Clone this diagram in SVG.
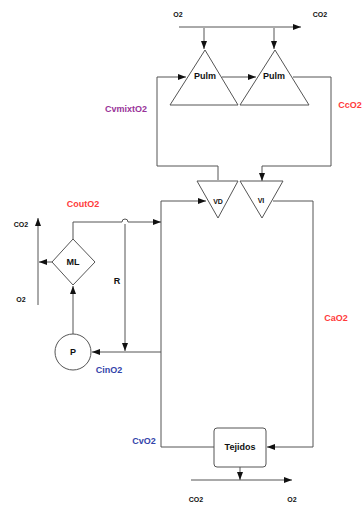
<svg xmlns="http://www.w3.org/2000/svg" width="364" height="505" viewBox="0 0 364 505">
<style>
.ln{fill:none;stroke:#555;stroke-width:1;stroke-linejoin:round}
.sh{fill:#fff;stroke:#555;stroke-width:1}
.t{font-family:"Liberation Sans",Arial,sans-serif;font-weight:bold;text-anchor:middle;dominant-baseline:central;fill:#111}
.s{font-size:7px}
.m{font-size:9px}
.lbl{font-family:"Liberation Sans",Arial,sans-serif;font-weight:bold;font-size:9px;text-anchor:middle;dominant-baseline:central}
.red{fill:#ff3b3b}
.blue{fill:#3344aa}
.pur{fill:#993399}
</style>
<defs>
<marker id="a" viewBox="0 0 8 6" refX="8" refY="3" markerWidth="8" markerHeight="6" markerUnits="userSpaceOnUse" orient="auto">
<path d="M0,0 L8,3 L0,6 Z" fill="#111"/>
</marker>
</defs>
<rect width="364" height="505" fill="#fff"/>
<g id="connectors">
<path class="ln" d="M179,27 H301" marker-end="url(#a)"/>
<path class="ln" d="M204,28 V49" marker-end="url(#a)"/>
<path class="ln" d="M274,28 V49" marker-end="url(#a)"/>
<path class="ln" d="M218,180 V166 H157 V77 H186" marker-end="url(#a)"/>
<path class="ln" d="M222,77 H256" marker-end="url(#a)"/>
<path class="ln" d="M293,77 H331 V166 H262 V181" marker-end="url(#a)"/>
<path class="ln" d="M273,201 H313 V447 H267" marker-end="url(#a)"/>
<path class="ln" d="M214,447 H161 V201 H206" marker-end="url(#a)"/>
<path class="ln" d="M73,239 V222 H122 A3,3 0 0 1 128,222 H161" marker-end="url(#a)"/>
<path class="ln" d="M125,224 V351" marker-end="url(#a)"/>
<path class="ln" d="M161,352 H92" marker-end="url(#a)"/>
<path class="ln" d="M73,334 V286" marker-end="url(#a)"/>
<path class="ln" d="M52,262 H39" marker-end="url(#a)"/>
<path class="ln" d="M38,305 V218" marker-end="url(#a)"/>
<path class="ln" d="M240,467 V480" marker-end="url(#a)"/>
<path class="ln" d="M191,480 H292" marker-end="url(#a)"/>
</g>
<g id="pulm1">
<path class="sh" d="M205,50 L238,105 H170 Z"/>
<text class="t m" x="205" y="76">Pulm</text>
</g>
<g id="pulm2">
<path class="sh" d="M275,50 L309,105 H240 Z"/>
<text class="t m" x="274" y="76">Pulm</text>
</g>
<g id="vd">
<path class="sh" d="M197,181 H238 L218,218 Z"/>
<text class="t s" x="218" y="201">VD</text>
</g>
<g id="vi">
<path class="sh" d="M240,181 H283 L262,218 Z"/>
<text class="t s" x="261" y="200">VI</text>
</g>
<g id="ml">
<path class="sh" d="M73,239 L95,262 L73,285 L52,262 Z"/>
<text class="t m" x="73" y="262">ML</text>
</g>
<g id="p">
<circle class="sh" cx="73" cy="352" r="18"/>
<text class="t m" x="73" y="352">P</text>
</g>
<g id="tejidos">
<rect class="sh" x="214" y="428" width="52" height="39" rx="3"/>
<text class="t m" x="240" y="447">Tejidos</text>
</g>
<g id="labels">
<text class="t s" x="178" y="14">O2</text>
<text class="t s" x="320" y="14">CO2</text>
<text class="t s" x="21" y="224">CO2</text>
<text class="t s" x="21" y="299">O2</text>
<text class="t s" x="196" y="499">CO2</text>
<text class="t s" x="292" y="499">O2</text>
<text class="lbl pur" x="126" y="109">CvmixtO2</text>
<text class="lbl red" x="350" y="105">CcO2</text>
<text class="lbl red" x="83" y="204">CoutO2</text>
<text class="t m" x="117" y="281">R</text>
<text class="lbl blue" x="109" y="370">CinO2</text>
<text class="lbl red" x="336" y="318">CaO2</text>
<text class="lbl blue" x="144" y="441">CvO2</text>
</g>
</svg>
